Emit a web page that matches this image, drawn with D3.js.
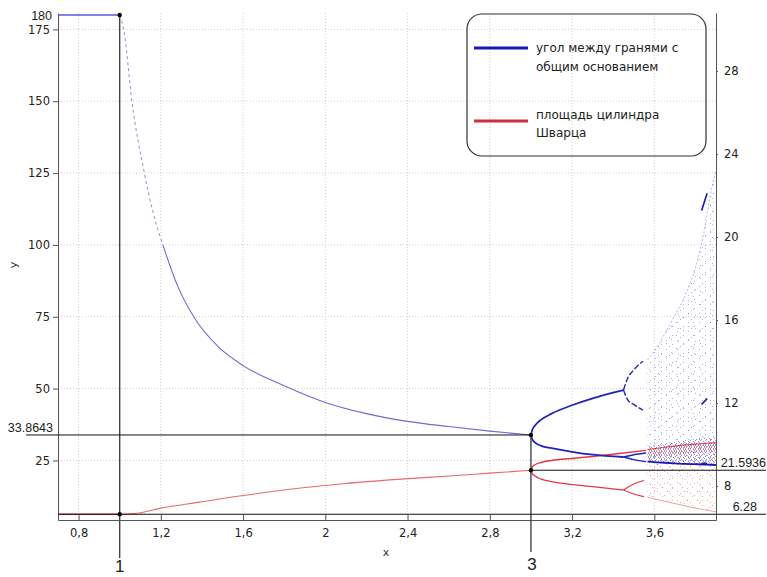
<!DOCTYPE html>
<html>
<head>
<meta charset="utf-8">
<script src="https://cdn.jsdelivr.net/npm/d3@7"></script>
<style>
  body { margin: 0; background: #fff; }
  text { font-family: "DejaVu Sans", sans-serif; }
</style>
</head>
<body>
<script>
// values (left axis units unless noted)
const blueX = [1.0, 1.02, 1.06, 1.12, 1.16, 1.21, 1.28, 1.36, 1.48, 1.6, 1.8, 2.0, 2.2, 2.4, 2.6, 2.8, 3.0];
const blueY = [180, 174.8, 149.7, 125, 112, 100, 86, 75, 64.5, 58, 51, 45.2, 41.3, 38.6, 36.8, 35.2, 33.8643];
const redX = [1.0, 1.07, 1.2, 1.39, 1.6, 1.88, 2.1, 2.37, 2.6, 2.8, 3.0];
const redY = [6.28, 6.5, 8.4, 10.5, 12.8, 15.4, 17.0, 18.5, 19.6, 20.6, 21.5936];

// period doubling branches
const bUpX = [3.0, 3.005, 3.02, 3.05, 3.1, 3.2, 3.3, 3.4, 3.45];
const bUpY = [33.8643, 35.3, 37.2, 39.2, 41.3, 44.2, 46.6, 48.6, 49.5];
const bUp2X = [3.45, 3.47, 3.5, 3.545];
const bUpHiY = [49.5, 53.5, 56.5, 59.5];
const bUpLoY = [49.5, 46.2, 44.5, 42.5];
const bLoX = [3.0, 3.005, 3.02, 3.05, 3.1, 3.2, 3.3, 3.45];
const bLoY = [33.8643, 32.6, 31.2, 30.1, 29.3, 28.0, 27.0, 26.2];
const bLo2X = [3.45, 3.5, 3.56];
const bLoHiY = [26.2, 27.0, 27.6];
const bLoLoY = [26.2, 25.3, 24.6];

const rUpX = [3.0, 3.005, 3.02, 3.05, 3.1, 3.2, 3.3, 3.45, 3.56];
const rUpY = [21.5936, 22.6, 23.5, 24.3, 25.0, 25.7, 26.4, 27.6, 28.5];
const rLoX = [3.0, 3.005, 3.02, 3.05, 3.1, 3.2, 3.3, 3.45];
const rLoY = [21.5936, 20.6, 19.6, 18.5, 17.6, 16.6, 15.9, 14.7];
const rLo2X = [3.45, 3.5, 3.55];
const rLoHiY = [14.7, 16.8, 18.0];
const rLoLoY = [14.7, 13.3, 12.4];

// chaotic region envelopes
const chaosX = [3.567, 3.6, 3.65, 3.7, 3.75, 3.8, 3.84, 3.88, 3.9];
const bChaosTop = [60, 63, 69, 75.5, 82.5, 92, 104, 120, 126];
const bChaosBand = [30, 30.5, 31, 31.5, 32, 32.5, 33, 33, 33];
const bChaosBottom = [24.6, 24.4, 24.2, 24.0, 23.8, 23.7, 23.6, 23.5, 23.4];
const rChaosTop = [28.8, 29.1, 29.6, 30.0, 30.4, 30.7, 30.9, 31.1, 31.2];
const rChaosBand = [26.0, 26.2, 26.6, 27.0, 27.3, 27.6, 27.9, 28.1, 28.2];
const rChaosBottom = [12.2, 11.6, 10.8, 10.0, 9.2, 8.4, 7.9, 7.4, 7.1];

// period-3 window
const winX = [3.83, 3.857];
const winY = [[24.0, 24.0], [44.5, 46.5], [112, 118]];

const xMajor = [0.8, 1.2, 1.6, 2.0, 2.4, 2.8, 3.2, 3.6];
const yMajor = [25, 50, 75, 100, 125, 150, 175];
const rMajor = [8, 12, 16, 20, 24, 28];

const width = 767, height = 577;
const x = d3.scaleLinear().domain([0.7, 3.9]).range([58, 716]);
const y = d3.scaleLinear().domain([4.28, 180.7]).range([520, 13]);
const yR = d3.scaleLinear().domain([6.36, 30.8]).range([520, 13]);

const svg = d3.select("body").append("svg")
    .attr("width", width).attr("height", height);

const defs = svg.append("defs");
defs.append("clipPath").attr("id", "plot")
  .append("rect")
    .attr("x", x.range()[0]).attr("y", y.range()[1])
    .attr("width", x.range()[1] - x.range()[0])
    .attr("height", y.range()[0] - y.range()[1]);

function dots(id, color, w, h, pts, op) {
  const p = defs.append("pattern").attr("id", id)
      .attr("patternUnits", "userSpaceOnUse")
      .attr("width", w).attr("height", h);
  pts.forEach(([a, b]) => p.append("rect")
      .attr("x", a).attr("y", b).attr("width", 1).attr("height", 1)
      .attr("fill", color).attr("fill-opacity", op));
}
dots("bSparse", "#2b33c8", 11, 9, [[1, 2], [6, 7], [9, 4]], 0.4);
dots("bSparse2", "#2b33c8", 17, 13, [[3, 5], [13, 10], [8, 1], [15, 3]], 0.4);
dots("bDense", "#1f22b8", 5, 4, [[0, 0], [3, 1], [1, 3], [4, 2]], 0.5);
dots("rSparse", "#e0303a", 10, 9, [[2, 1], [7, 5], [0, 7]], 0.45);
dots("rSparse2", "#e0303a", 15, 12, [[4, 3], [12, 8], [9, 11]], 0.4);
dots("rDense", "#d8202c", 5, 4, [[0, 1], [3, 0], [4, 3], [1, 2]], 0.55);

// grid
const grid = svg.append("g").attr("stroke", "#cfcfcf").attr("stroke-dasharray", "1,2");
grid.selectAll("line.gx").data(xMajor).join("line")
    .attr("x1", d => x(d)).attr("x2", d => x(d))
    .attr("y1", y.range()[1]).attr("y2", y.range()[0]);
grid.selectAll("line.gy").data(yMajor).join("line")
    .attr("x1", x.range()[0]).attr("x2", x.range()[1])
    .attr("y1", d => y(d)).attr("y2", d => y(d));

const fmt = d => String(+d.toFixed(1)).replace(".", ",");

// bottom axis
const bottom = svg.append("g").attr("transform", `translate(0,${y.range()[0]})`);
bottom.call(d3.axisBottom(x).tickValues(d3.range(7, 40).map(d => d / 10)).tickSizeInner(-3).tickSizeOuter(0).tickFormat(""));
bottom.call(d3.axisBottom(x).tickValues(xMajor).tickSizeInner(-5).tickSizeOuter(0).tickPadding(9).tickFormat(fmt));
// left axis
const left = svg.append("g").attr("transform", `translate(${x.range()[0]},0)`);
left.call(d3.axisLeft(y).tickValues(d3.range(5, 181, 5)).tickSizeInner(3).tickSizeOuter(0).tickFormat(""));
left.call(d3.axisLeft(y).tickValues(yMajor).tickSizeInner(5).tickSizeOuter(0).tickPadding(3));
// right axis
const right = svg.append("g").attr("transform", `translate(${x.range()[1]},0)`);
right.call(d3.axisRight(yR).tickValues(d3.range(7, 31)).tickSizeInner(-3).tickSizeOuter(0).tickFormat(""));
right.call(d3.axisRight(yR).tickValues(rMajor).tickSizeInner(2).tickSizeOuter(0).tickPadding(6));

svg.selectAll(".domain, .tick line").attr("stroke", "#555");
svg.selectAll(".tick text").attr("fill", "#222")
    .style("font-family", "'DejaVu Sans', sans-serif").style("font-size", "11.5px");

svg.append("text").attr("x", 386).attr("y", 556).attr("text-anchor", "middle")
    .style("font-size", "11px").attr("fill", "#333").text("x");
svg.append("text").attr("transform", "translate(17,265) rotate(-90)")
    .attr("text-anchor", "middle").style("font-size", "11px").attr("fill", "#333").text("y");

// data layers
const plot = svg.append("g").attr("clip-path", "url(#plot)");
const zip = (xs, ys) => xs.map((d, i) => [d, ys[i]]);
const line = d3.line().x(d => x(d[0])).y(d => y(d[1])).curve(d3.curveMonotoneX);

// chaotic regions
const chaos = (top, bot) => d3.area().curve(d3.curveMonotoneX)
    .x((d, i) => x(chaosX[i])).y0((d, i) => y(bot[i])).y1((d, i) => y(top[i]))(chaosX);
["bSparse", "bSparse2"].forEach(p =>
  plot.append("path").attr("d", chaos(bChaosTop, bChaosBottom)).attr("fill", `url(#${p})`));
plot.append("path").attr("d", chaos(bChaosBand, bChaosBottom)).attr("fill", "url(#bDense)");
["rSparse", "rSparse2"].forEach(p =>
  plot.append("path").attr("d", chaos(rChaosTop, rChaosBottom)).attr("fill", `url(#${p})`));
plot.append("path").attr("d", chaos(rChaosTop, rChaosBand)).attr("fill", "url(#rDense)");
plot.append("path").attr("d", line(zip(chaosX, bChaosTop)))
    .attr("fill", "none").attr("stroke", "#3a44d0").attr("stroke-width", 0.8).attr("stroke-opacity", 0.5)
    .attr("stroke-dasharray", "2,2");
plot.append("path").attr("d", line(zip(chaosX, bChaosBottom)))
    .attr("fill", "none").attr("stroke", "#1818b0").attr("stroke-width", 1.8);
plot.append("path").attr("d", line(zip(chaosX, rChaosTop)))
    .attr("fill", "none").attr("stroke", "#d8202c").attr("stroke-width", 1.2).attr("stroke-opacity", 0.8);
plot.append("path").attr("d", line(zip(chaosX, rChaosBottom)))
    .attr("fill", "none").attr("stroke", "#e0303a").attr("stroke-width", 0.8).attr("stroke-opacity", 0.6);
winY.forEach(v => plot.append("path").attr("d", line(zip(winX, v)))
    .attr("fill", "none").attr("stroke", "#1a1ab8").attr("stroke-width", 1.6));

// main curves
plot.append("line").attr("x1", x(0.7)).attr("x2", x(1)).attr("y1", y(180)).attr("y2", y(180))
    .attr("stroke", "#5a5ad8").attr("stroke-width", 1.6);
plot.append("line").attr("x1", x(0.7)).attr("x2", x(1)).attr("y1", y(6.28)).attr("y2", y(6.28))
    .attr("stroke", "#e04050").attr("stroke-width", 1.6);

const steep = blueX.filter(d => d <= 1.21).length;
plot.append("path").attr("d", line(zip(blueX.slice(0, steep), blueY.slice(0, steep))))
    .attr("fill", "none").attr("stroke", "#9090c8").attr("stroke-width", 1).attr("stroke-dasharray", "3,3");
plot.append("path").attr("d", line(zip(blueX.slice(steep - 1), blueY.slice(steep - 1))))
    .attr("fill", "none").attr("stroke", "#6b6bd0").attr("stroke-width", 1.1);
plot.append("path").attr("d", line(zip(redX, redY)))
    .attr("fill", "none").attr("stroke", "#e86870").attr("stroke-width", 1.1);

const branch = (xs, ys, color, w) => plot.append("path").attr("d", line(zip(xs, ys)))
    .attr("fill", "none").attr("stroke", color).attr("stroke-width", w);
branch(rUpX, rUpY, "#e03848", 1.4);
branch(rLoX, rLoY, "#e03848", 1.3);
branch(rLo2X, rLoHiY, "#e03848", 1.1);
branch(rLo2X, rLoLoY, "#e03848", 1.1);
branch(bUpX, bUpY, "#2323b8", 1.8);
branch(bUp2X, bUpHiY, "#2323b8", 1.4).attr("stroke-dasharray", "6,2");
branch(bUp2X, bUpLoY, "#2323b8", 1.4).attr("stroke-dasharray", "6,2");
branch(bLoX, bLoY, "#2323b8", 1.8);
branch(bLo2X, bLoHiY, "#2323b8", 1.4);
branch(bLo2X, bLoLoY, "#2323b8", 1.4);

// reference lines and labels
const ref = svg.append("g").attr("stroke", "#111").attr("stroke-width", 1);
ref.append("line").attr("x1", x(1)).attr("x2", x(1)).attr("y1", y(180)).attr("y2", y.range()[0] + 38)
    .attr("stroke", "#444").attr("stroke-width", 1.4);
ref.append("line").attr("x1", x(3)).attr("x2", x(3)).attr("y1", y(33.8643)).attr("y2", y.range()[0] + 32)
    .attr("stroke", "#444").attr("stroke-width", 1.4);
ref.append("line").attr("x1", x.range()[0] - 32).attr("x2", x(3)).attr("y1", y(33.8643)).attr("y2", y(33.8643));
ref.append("line").attr("x1", x(3)).attr("x2", width - 1).attr("y1", y(21.5936)).attr("y2", y(21.5936));
ref.append("line").attr("x1", x.range()[0]).attr("x2", width - 1).attr("y1", y(6.28)).attr("y2", y(6.28));

svg.selectAll("circle.pt").data([[1, 180], [1, 6.28], [3, 33.8643], [3, 21.5936]]).join("circle")
    .attr("cx", d => x(d[0])).attr("cy", d => y(d[1])).attr("r", 2.2).attr("fill", "#000");

const note = (tx, ty, s, anchor, size) => svg.append("text")
    .attr("x", tx).attr("y", ty).attr("text-anchor", anchor)
    .style("font-family", "'Liberation Sans', Arial, sans-serif")
    .style("font-size", size + "px").attr("fill", "#222").text(s);
note(52, y(180) + 5, "180", "end", 12.5);
note(53, y(33.8643) - 3, "33.8643", "end", 12.5);
note(766, y(21.5936) - 3, "21.5936", "end", 12.5);
note(757, y(6.28) - 3, "6.28", "end", 12.5);
note(x(1), 572, "1", "middle", 17);
note(x(3) + 1, 570, "3", "middle", 17);

// legend
const lg = svg.append("g");
lg.append("rect").attr("x", 467).attr("y", 14).attr("width", 239).attr("height", 142)
    .attr("rx", 15).attr("fill", "none").attr("stroke", "#333").attr("stroke-width", 1.2);
lg.append("line").attr("x1", 474).attr("x2", 528).attr("y1", 48).attr("y2", 48)
    .attr("stroke", "#1a1aa8").attr("stroke-width", 3);
lg.append("line").attr("x1", 474).attr("x2", 528).attr("y1", 121).attr("y2", 121)
    .attr("stroke", "#cc3040").attr("stroke-width", 3);
const lgText = [["угол между гранями с", 52], ["общим основанием", 71], ["площадь цилиндра", 119], ["Шварца", 137]];
lgText.forEach(([s, ty]) => lg.append("text").attr("x", 536).attr("y", ty)
    .style("font-family", "'DejaVu Sans', sans-serif").style("font-size", "12px")
    .attr("fill", "#222").text(s));
</script>
</body>
</html>
